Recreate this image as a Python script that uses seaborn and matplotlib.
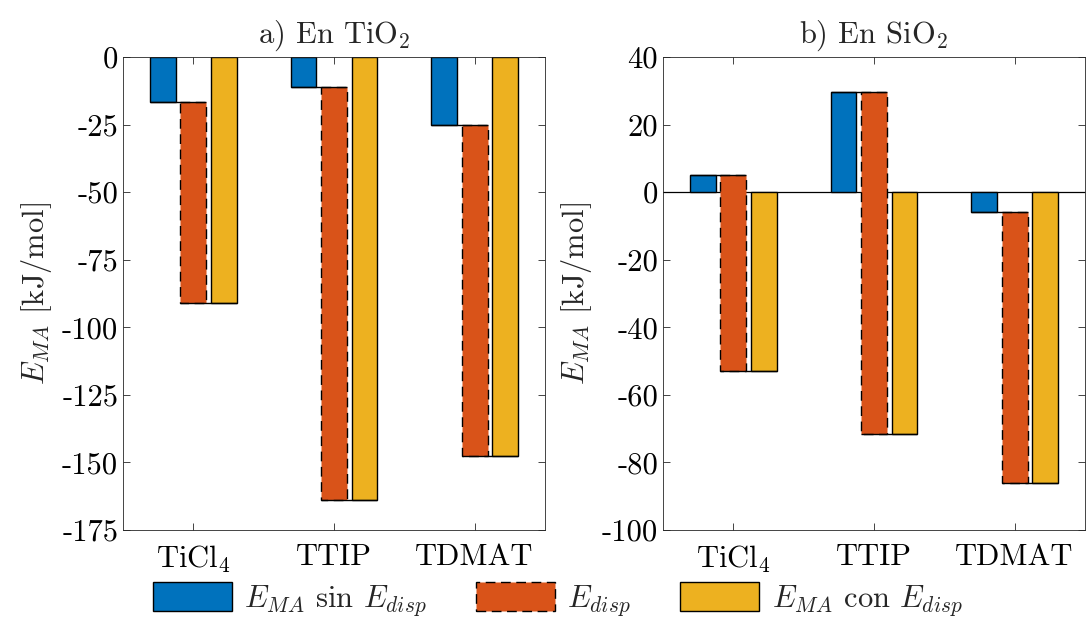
import numpy as np
import pandas as pd
import seaborn as sns
import matplotlib
matplotlib.use("Agg")
import matplotlib.pyplot as plt
from matplotlib.patches import Patch

# ---------------- data ----------------
categories = ["TiCl$_4$", "TTIP", "TDMAT"]
series = [r"$E_{MA}$ sin $E_{disp}$", r"$E_{disp}$", r"$E_{MA}$ con $E_{disp}$"]
ema_sin_tio2 = [-16.5, -11.0, -25.0]
ema_con_tio2 = [-91.0, -164.0, -147.5]
ema_sin_sio2 = [5.0, 29.5, -6.0]
ema_con_sio2 = [-53.0, -71.5, -86.0]
yticks_tio2 = [0, -25, -50, -75, -100, -125, -150, -175]
yticks_sio2 = [40, 20, 0, -20, -40, -60, -80, -100]
titles = ["a) En TiO$_2$", "b) En SiO$_2$"]
ylabel = r"$E_{MA}$ [kJ/mol]"
colors = ["#0072BD", "#D95319", "#EDB120"]

sns.set_style("ticks")
plt.rcParams["font.family"] = "serif"
plt.rcParams["font.serif"] = ["cmr10"]
plt.rcParams["mathtext.fontset"] = "cm"
plt.rcParams["axes.unicode_minus"] = False
plt.rcParams["axes.formatter.use_mathtext"] = True

FS = 22
DASH = (0, (7, 4))
fig = plt.figure(figsize=(10.89, 6.2), dpi=100)
ax1 = fig.add_axes([123 / 1089, 90 / 620, 422 / 1089, 473 / 620])
ax2 = fig.add_axes([663 / 1089, 90 / 620, 422 / 1089, 473 / 620])


def panel(ax, sin, con, yticks, title, baseline):
    disp = [c - s for s, c in zip(sin, con)]
    rows = []
    for i, cat in enumerate(categories):
        rows.append((cat, series[0], sin[i]))
        rows.append((cat, series[1], disp[i]))
        rows.append((cat, series[2], con[i]))
    df = pd.DataFrame(rows, columns=["cat", "serie", "val"])
    if baseline:
        ax.axhline(0, color="k", lw=0.9, zorder=1)
    sns.barplot(data=df, x="cat", y="val", hue="serie", order=categories,
                hue_order=series, palette=colors, width=0.65, gap=0.15,
                edgecolor="k", linewidth=1.0, errorbar=None, legend=False,
                saturation=1, ax=ax, zorder=2)
    cb, co, cy = ax.containers[:3]
    for i in range(len(categories)):
        pb, po, py = cb[i], co[i], cy[i]
        po.set_y(sin[i])
        po.set_linestyle(DASH)
        # connector lines like MATLAB floating bars
        ax.plot([pb.get_x(), po.get_x() + po.get_width()], [sin[i], sin[i]],
                color="k", lw=1.0, zorder=3, solid_capstyle="butt")
        ax.plot([po.get_x(), py.get_x() + py.get_width()], [con[i], con[i]],
                color="k", lw=1.0, zorder=3, solid_capstyle="butt")
    ax.set_xlim(-0.5, len(categories) - 0.5)
    ax.set_ylim(min(yticks), max(yticks))
    ax.set_yticks(yticks)
    ax.set_yticklabels([str(t) for t in yticks])
    ax.set_xlabel("")
    ax.set_ylabel(ylabel, fontsize=FS, labelpad=6)
    ax.set_title(title, fontsize=FS, pad=10)
    ax.tick_params(direction="in", top=True, right=True, length=5, width=0.6,
                   labelsize=FS, colors="#262626", labelcolor="k")
    ax.tick_params(axis="x", pad=10)
    for sp in ax.spines.values():
        sp.set_visible(True)
        sp.set_linewidth(0.6)
        sp.set_color("#262626")


panel(ax1, ema_sin_tio2, ema_con_tio2, yticks_tio2, titles[0], False)
panel(ax2, ema_sin_sio2, ema_con_sio2, yticks_sio2, titles[1], True)

handles = [Patch(facecolor=colors[0], edgecolor="k", linewidth=1.0),
           Patch(facecolor=colors[1], edgecolor="k", linewidth=1.0, linestyle=DASH),
           Patch(facecolor=colors[2], edgecolor="k", linewidth=1.0)]
fig.legend(handles, series, loc="lower center", bbox_to_anchor=(0.512, -0.022),
           ncol=3, frameon=False, fontsize=FS, handlelength=2.6, handleheight=1.1,
           columnspacing=1.6, handletextpad=0.4, borderaxespad=0.1)

fig.savefig("out.png", dpi=100)
